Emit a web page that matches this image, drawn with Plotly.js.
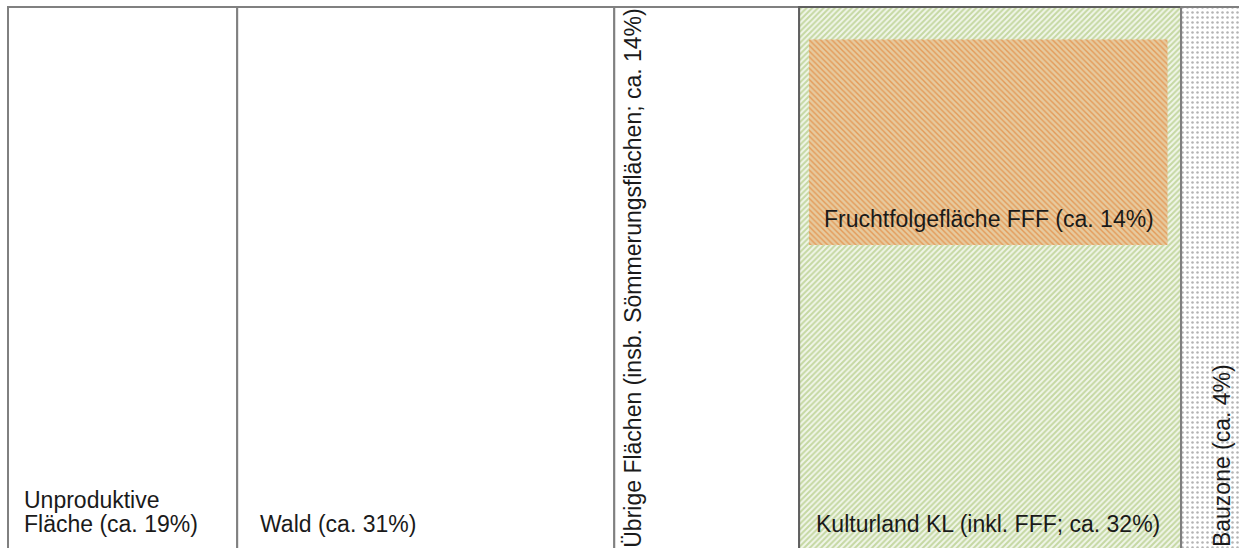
<!DOCTYPE html>
<html>
<head>
<meta charset="utf-8">
<script src="https://cdn.plot.ly/plotly-3.0.1.min.js"></script>
<style>html,body{margin:0;padding:0;background:#fff;overflow:hidden}#chart{width:1239px;height:548px}</style>
</head>
<body>
<div id="chart"></div>
<script>
// Data (widths of the strips, in % of the drawn total)
const categories = ['Unproduktive Fläche', 'Wald', 'Übrige Flächen', 'Kulturland KL', 'Bauzone'];
const widths = [18.6, 30.6, 15.0, 31.0, 4.8];
const labels = [
  'Unproduktive<br>Fläche (ca. 19%)',
  'Wald (ca. 31%)',
  'Übrige Flächen (insb. Sömmerungsflächen; ca. 14%)',
  'Kulturland KL (inkl. FFF; ca. 32%)',
  'Bauzone (ca. 4%)'
];
const fffLabel = 'Fruchtfolgefläche FFF (ca. 14%)';
const fffX = [65.0, 94.1];   // start / end of the FFF block along x
const fffY = [0.56, 0.94];   // bottom / top of the FFF block along y

// derived
const lefts = [];
let acc = 0;
for (const w of widths) { lefts.push(acc); acc += w; }
const centers = lefts.map((l, i) => l + widths[i] / 2);

const H = 548, SPAN = 541;
const py = p => (H - p) / SPAN; // pixel row -> y value

const font = {family: '"Liberation Sans", Arial, sans-serif', size: 23, color: '#1a1a1a'};

const plainBars = {
  type: 'bar',
  x: centers.slice(0, 3),
  width: widths.slice(0, 3),
  base: [-0.05, -0.05, -0.05],
  y: [1.05, 1.05, 1.05],
  hoverinfo: 'skip',
  marker: {color: '#ffffff', line: {color: '#808080', width: 2}}
};

const kulturland = {
  type: 'bar',
  x: [centers[3]],
  width: [widths[3]],
  base: [-0.05],
  y: [1.05],
  hoverinfo: 'skip',
  marker: {
    color: '#e4ecd6',
    line: {color: '#5f5f5f', width: 2},
    pattern: {shape: '/', bgcolor: '#f1f6ea', fgcolor: '#c5d8a2', size: 4, solidity: 0.5, fillmode: 'replace'}
  }
};

const bauzone = {
  type: 'bar',
  x: [centers[4]],
  width: [widths[4]],
  base: [-0.05],
  y: [1.05],
  hoverinfo: 'skip',
  marker: {
    color: '#ffffff',
    line: {color: '#808080', width: 2},
    pattern: {shape: '.', bgcolor: '#ffffff', fgcolor: '#b4b4b4', size: 5, solidity: 0.2, fillmode: 'replace'}
  }
};

const fff = {
  type: 'bar',
  x: [(fffX[0] + fffX[1]) / 2],
  width: [fffX[1] - fffX[0]],
  base: [fffY[0]],
  y: [fffY[1] - fffY[0]],
  hoverinfo: 'skip',
  marker: {
    color: '#e3b37f',
    line: {width: 0},
    pattern: {shape: '\\', bgcolor: '#e6ca9e', fgcolor: '#e49a58', size: 4, solidity: 0.35, fillmode: 'replace'}
  }
};

const unprodLines = labels[0].split('<br>');
const ann = [
  {x: lefts[0], xshift: 14, y: py(500), xanchor: 'left', yanchor: 'middle', text: unprodLines[0]},
  {x: lefts[0], xshift: 14, y: py(524), xanchor: 'left', yanchor: 'middle', text: unprodLines[1]},
  {x: lefts[1], xshift: 21, y: py(524), xanchor: 'left', yanchor: 'middle', text: labels[1]},
  {x: lefts[2], xshift: 18, y: py(278.5), xanchor: 'center', yanchor: 'middle', textangle: -90, text: labels[2]},
  {x: lefts[3], xshift: 15, y: py(524), xanchor: 'left', yanchor: 'middle', text: labels[3]},
  {x: lefts[4], xshift: 41, y: py(456), xanchor: 'center', yanchor: 'middle', textangle: -90, text: labels[4]},
  {x: fffX[0], xshift: 13, y: py(219), xanchor: 'left', yanchor: 'middle', text: fffLabel}
].map(a => Object.assign({xref: 'x', yref: 'y', showarrow: false, font: font}, a));

const layout = {
  width: 1239, height: 548,
  margin: {l: 0, r: 0, t: 0, b: 0},
  paper_bgcolor: '#ffffff', plot_bgcolor: '#ffffff',
  barmode: 'overlay',
  showlegend: false,
  xaxis: {range: [-0.65, 99.9], visible: false, fixedrange: true},
  yaxis: {range: [0, H / SPAN], visible: false, fixedrange: true},
  annotations: ann
};

Plotly.newPlot('chart', [plainBars, kulturland, bauzone, fff], layout, {staticPlot: true, displayModeBar: false});
</script>
</body>
</html>
